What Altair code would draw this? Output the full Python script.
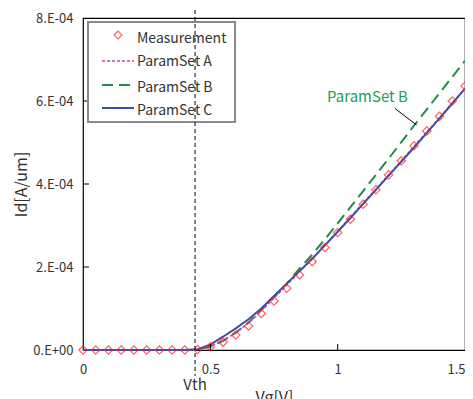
import altair as alt
import pandas as pd

vg = [round(i * 0.05, 2) for i in range(31)]
meas = [0, 0, 0, 0, 0, 0, 0, 0, 0, 0.01, 0.08, 0.19, 0.36, 0.58, 0.88, 1.18, 1.49, 1.81,
        2.13, 2.47, 2.83, 3.15, 3.51, 3.86, 4.22, 4.56, 4.92, 5.28, 5.63, 6.00, 6.36]
set_a = [0, 0, 0, 0, 0, 0, 0, 0, 0, 0.01, 0.09, 0.23, 0.41, 0.65, 0.94, 1.25, 1.56, 1.88,
         2.20, 2.53, 2.86, 3.20, 3.54, 3.88, 4.22, 4.56, 4.91, 5.25, 5.60, 5.95, 6.30]
set_b = [0, 0, 0, 0, 0, 0, 0, 0, 0, 0.01, 0.08, 0.22, 0.42, 0.66, 0.96, 1.28, 1.60, 1.96,
         2.30, 2.67, 3.05, 3.44, 3.83, 4.22, 4.61, 5.01, 5.41, 5.80, 6.19, 6.58, 6.97]
set_c = [0, 0, 0, 0, 0, 0, 0, 0, 0, 0.02, 0.13, 0.32, 0.52, 0.74, 1.00, 1.30, 1.60, 1.90,
         2.20, 2.52, 2.85, 3.18, 3.52, 3.86, 4.20, 4.54, 4.88, 5.23, 5.58, 5.94, 6.30]
x_ticks = [0, 0.5, 1, 1.5]
y_ticks = [0, 2e-4, 4e-4, 6e-4, 8e-4]
vth = 0.44

FONT = "Noto Sans CJK JP"
TXT = "#333333"

df = pd.DataFrame({
    "vg": vg,
    "meas": [v * 1e-4 for v in meas],
    "a": [v * 1e-4 for v in set_a],
    "b": [v * 1e-4 for v in set_b],
    "c": [v * 1e-4 for v in set_c],
})

xs = alt.Scale(domain=[0, 1.5], nice=False, zero=False)
ys = alt.Scale(domain=[0, 8e-4], nice=False)

xax = alt.Axis(values=x_ticks, ticks=False, grid=False, labelPadding=13, labelFontSize=13,
               labelColor=TXT, labelFont=FONT, title="Vg[V]", titleFontSize=16, titleFont=FONT,
               titleFontWeight="normal", titleColor=TXT, titlePadding=13, domain=False,
               labelFlush=False, labelExpr="toString(datum.value)",
               labelAlign={"condition": {"test": "datum.value == 1.5", "value": "right"},
                           "value": "center"})
yax = alt.Axis(values=y_ticks, ticks=False, grid=False, labelPadding=10, labelFontSize=13,
               labelColor=TXT, labelFont=FONT, title="Id[A/um]", titleFontSize=16, titleFont=FONT,
               titleFontWeight="normal", titleColor=TXT, titlePadding=3, domain=False,
               labelExpr="datum.value == 0 ? '0.E+00' : toString(round(datum.value*1e4)) + '.E-04'")

base = alt.Chart(df)

line_b = base.mark_line(color="#1e8c46", strokeWidth=2, strokeDash=[11, 6]).encode(
    x=alt.X("vg:Q", scale=xs, axis=xax), y=alt.Y("b:Q", scale=ys, axis=yax))
line_a = base.mark_line(color="#d040a8", strokeWidth=1.5, strokeDash=[3, 2]).encode(
    x=alt.X("vg:Q", scale=xs), y=alt.Y("a:Q", scale=ys))
line_c = base.mark_line(color="#3d4fa3", strokeWidth=2).encode(
    x=alt.X("vg:Q", scale=xs), y=alt.Y("c:Q", scale=ys))
pts = base.mark_point(shape="diamond", color="#ff2020", size=70, strokeWidth=1.2, filled=False).encode(
    x=alt.X("vg:Q", scale=xs), y=alt.Y("meas:Q", scale=ys))

xt = alt.Chart(pd.DataFrame({"t": [0.5, 1]})).mark_rule(color="black").encode(
    x=alt.X("t:Q", scale=xs), y=alt.value(332), y2=alt.value(326))
yt = alt.Chart(pd.DataFrame({"t": [2e-4, 4e-4, 6e-4]})).mark_rule(color="black").encode(
    y=alt.Y("t:Q", scale=ys), x=alt.value(0), x2=alt.value(6))

# legend
leg_box = alt.Chart(pd.DataFrame({"k": [0]})).mark_rect(
    fill="white", stroke="#8a8a8a", strokeWidth=2).encode(
    x=alt.value(5), x2=alt.value(152), y=alt.value(4), y2=alt.value(104))
leg_names = ["Measurement", "ParamSet A", "ParamSet B", "ParamSet C"]
leg_y = [21, 44, 70, 93]
leg_txt = alt.Chart(pd.DataFrame({"n": leg_names, "yy": leg_y})).mark_text(
    align="left", baseline="middle", fontSize=14, font=FONT, color=TXT).encode(
    text="n:N", x=alt.value(54), y=alt.Y("yy:Q", scale=None))
leg_pt = alt.Chart(pd.DataFrame({"k": [0]})).mark_point(
    shape="diamond", color="#ff2020", size=60, strokeWidth=1.2).encode(x=alt.value(35), y=alt.value(17))
leg_a = alt.Chart(pd.DataFrame({"k": [0]})).mark_rule(
    color="#d040a8", strokeWidth=1.5, strokeDash=[3, 2]).encode(x=alt.value(19), x2=alt.value(51), y=alt.value(43))
leg_b = alt.Chart(pd.DataFrame({"k": [0]})).mark_rule(
    color="#1e8c46", strokeWidth=2, strokeDash=[11, 6]).encode(x=alt.value(19), x2=alt.value(51), y=alt.value(67))
leg_c = alt.Chart(pd.DataFrame({"k": [0]})).mark_rule(
    color="#3d4fa3", strokeWidth=2).encode(x=alt.value(19), x2=alt.value(51), y=alt.value(90))

vline = alt.Chart(pd.DataFrame({"v": [vth]})).mark_rule(
    color="black", strokeWidth=1, strokeDash=[4, 3]).encode(
    x=alt.X("v:Q", scale=xs), y=alt.value(-8), y2=alt.value(358))
vtext = alt.Chart(pd.DataFrame({"v": [vth], "t": ["Vth"]})).mark_text(
    fontSize=15, font=FONT, color=TXT, baseline="middle").encode(
    x=alt.X("v:Q", scale=xs), y=alt.value(367), text="t:N")

ann_line = alt.Chart(pd.DataFrame({"x": [1.225], "y": [5.82e-4], "x2": [1.31], "y2": [5.42e-4]})).mark_rule(
    color="black", strokeWidth=1).encode(
    x=alt.X("x:Q", scale=xs), y=alt.Y("y:Q", scale=ys), x2="x2:Q", y2="y2:Q")
ann_txt = alt.Chart(pd.DataFrame({"x": [1.117], "y": [6.1e-4], "t": ["ParamSet B"]})).mark_text(
    fontSize=15, font=FONT, color="#2a9a55", baseline="middle").encode(
    x=alt.X("x:Q", scale=xs), y=alt.Y("y:Q", scale=ys), text="t:N")

chart = alt.layer(
    line_b, line_a, line_c, pts, xt, yt,
    leg_box, leg_pt, leg_a, leg_b, leg_c, leg_txt,
    vline, vtext, ann_line, ann_txt,
).properties(
    width=382, height=332,
    autosize=alt.AutoSizeParams(type="none"),
    padding={"left": 75, "top": 10, "right": 0, "bottom": 49},
).configure_view(stroke="black", strokeWidth=1.2)

chart.save("out.html", embed_options={"renderer": "svg", "actions": False})
